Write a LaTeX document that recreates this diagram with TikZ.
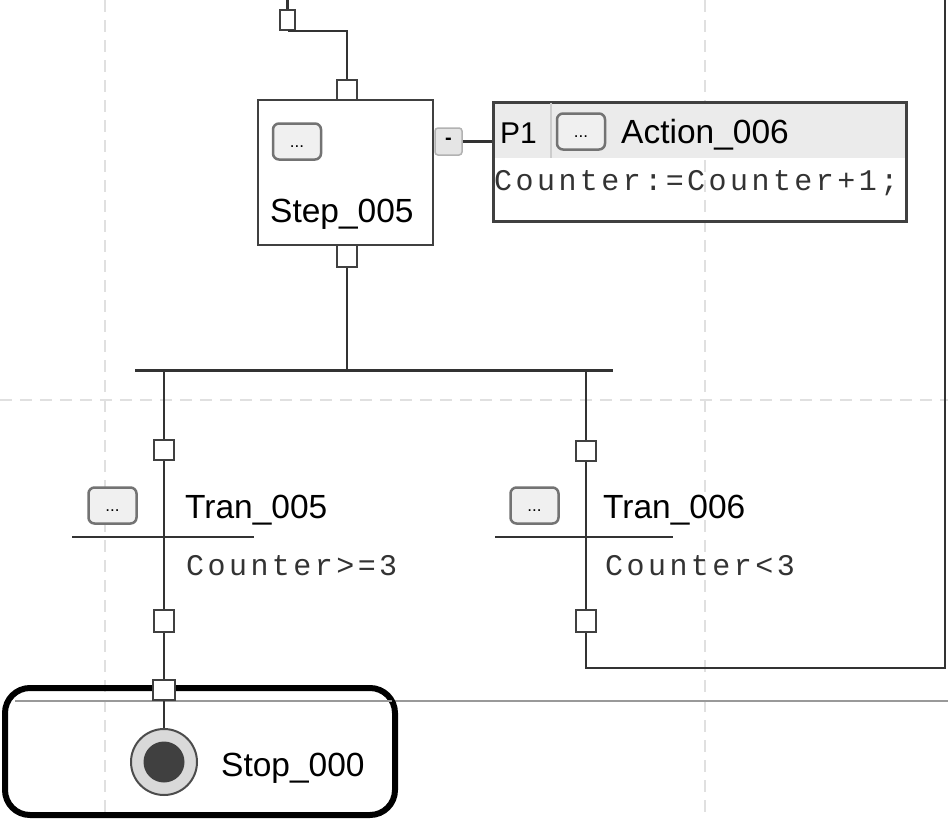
\documentclass[tikz,border=0pt]{standalone}
\usepackage{fontspec}
\setmainfont{Liberation Sans}
\setmonofont{Liberation Mono}
\newfontfamily\courfam[LetterSpace=11.5]{Liberation Mono}
\begin{document}
\begin{tikzpicture}[x=1pt,y=-1pt,
  ln/.style={draw=black!80,line width=2.5pt},
  port/.style={draw=black!75,fill=white,line width=2pt,minimum width=20pt,minimum height=20pt,inner sep=0pt},
  btn/.style={draw=black!55,fill=black!6,line width=2.5pt,rounded corners=6pt,minimum width=48pt,minimum height=36pt,inner sep=0pt},
  dots/.style={font=\fontsize{17}{17}\selectfont,inner sep=0pt},
  gridln/.style={draw=black!12,line width=2pt,dash pattern=on 12pt off 8pt},
  sf/.style={font=\fontsize{33.5}{38}\selectfont,inner sep=0pt},
  mono/.style={font=\courfam\fontsize{30}{34}\selectfont,text=black!80,inner sep=0pt},
]
\useasboundingbox (0,0) rectangle (948,819);
\fill[white] (0,0) rectangle (948,819);
% grid
\draw[gridln] (105,0) -- (105,819);
\draw[gridln] (705,0) -- (705,819);
\draw[gridln] (0,400) -- (948,400);
\draw[black!40,line width=2pt] (15,701) -- (948,701);

% step
\node[draw=black!75,line width=2.5pt,fill=white,minimum width=175pt,minimum height=145pt] (step) at (345.5,172.5) {};
\node[btn] (sbtn) at (297,141.5) {};
\node[dots] (sdots) at (297,147) {...};
\node[sf,anchor=base west] (stepname) at (270,222) {Step\_005};

% ports
\node[port,minimum width=15pt] (p0) at (287.5,20) {};
\node[port] (p1) at (347,90) {};
\node[port,minimum height=22pt] (p2) at (347,256) {};

% action
\fill[black!8] (492,101) rectangle (905,158);
\node[draw=black!75,line width=2.5pt,minimum width=413pt,minimum height=119pt,anchor=north west,inner sep=0pt] (act) at (492,101) {};
\draw[black!20,line width=1.5pt] (551,102.5) -- (551,158);
\node[sf,anchor=base west,font=\fontsize{30}{32}\selectfont] (p1txt) at (500,143) {P1};
\node[btn] (abtn) at (581,131.5) {};
\node[dots] (adots) at (581,137) {...};
\node[sf,anchor=base west] (actname) at (621,143) {Action\_006};
\node[mono,anchor=base west] (acode) at (494,190) {Counter:=Counter+1;};
\node[draw=black!30,fill=black!10,line width=1.5pt,rounded corners=3pt,minimum width=27pt,minimum height=27pt,inner sep=0pt,font=\bfseries\fontsize{20}{20}\selectfont] (minus) at (448.5,141.5) {-};
\draw[ln] (minus.east) -- (minus.east -| act.west);

% divergence
\coordinate (top0) at (287.5,0);
\coordinate (barL) at (135,370);
\coordinate (barR) at (613,370);
\coordinate (br1) at (164,370);
\coordinate (br2) at (586,370);
\coordinate (corner) at (586,668);
\coordinate (ret) at (945,0);

\draw[ln] (top0) -- (p0.north);
\draw[ln] (p0.south) -- (p0.south -| p1.north) -- (p1.north);
\draw[ln] (p2.south) -- (p2.south |- barL);
\draw[ln,line width=3pt] (barL) -- (barR);

% left branch
\node[port] (p3) at (164,450) {};
\node[port,minimum height=22pt] (p4) at (164,621) {};
\coordinate (tl) at (72,537);
\coordinate (tr) at (254,537);
\draw[ln] (br1) -- (p3.north);
\draw[ln] (p3.south) -- (p4.north);
\draw[ln] (tl) -- (tr);
\node[btn] (tbtn1) at (112.5,505.5) {};
\node[dots] (tdots1) at (112.5,511) {...};
\node[sf,anchor=base west] (tname1) at (185,518) {Tran\_005};
\node[mono,anchor=base west] (tcond1) at (186,575) {Counter>=3};

% right branch
\node[port] (q3) at (586,451) {};
\node[port,minimum height=22pt] (q4) at (586,621) {};
\coordinate (ul) at (495,537);
\coordinate (ur) at (673,537);
\draw[ln] (br2) -- (q3.north);
\draw[ln] (q3.south) -- (q4.north);
\draw[ln] (ul) -- (ur);
\node[btn] (tbtn2) at (534.5,505.5) {};
\node[dots] (tdots2) at (534.5,511) {...};
\node[sf,anchor=base west] (tname2) at (603,518) {Tran\_006};
\node[mono,anchor=base west] (tcond2) at (605,575) {Counter<3};
\draw[ln] (q4.south) -- (corner) -| (ret);

% stop
\node[draw=black,line width=6pt,rounded corners=25pt,minimum width=390pt,minimum height=127pt,inner sep=0pt] (stopbox) at (200,751.5) {};
\draw[black!40,line width=2pt] (18,701) -- (392,701);
\node[circle,draw=black!70,fill=black!15,line width=2pt,minimum size=66pt,inner sep=0pt] (stop) at (164,762) {};
\fill[black!75] (stop.center) circle (20.5);
\node[sf,anchor=base west] (stopname) at (221,776) {Stop\_000};
\node[port,minimum width=22pt] (p5) at (164,690) {};
\draw[ln] (p4.south) -- (p5.north);
\draw[ln] (p5.south) -- (stop.north);
\node[port,minimum width=22pt] (p5b) at (164,690) {};
\end{tikzpicture}
\end{document}
